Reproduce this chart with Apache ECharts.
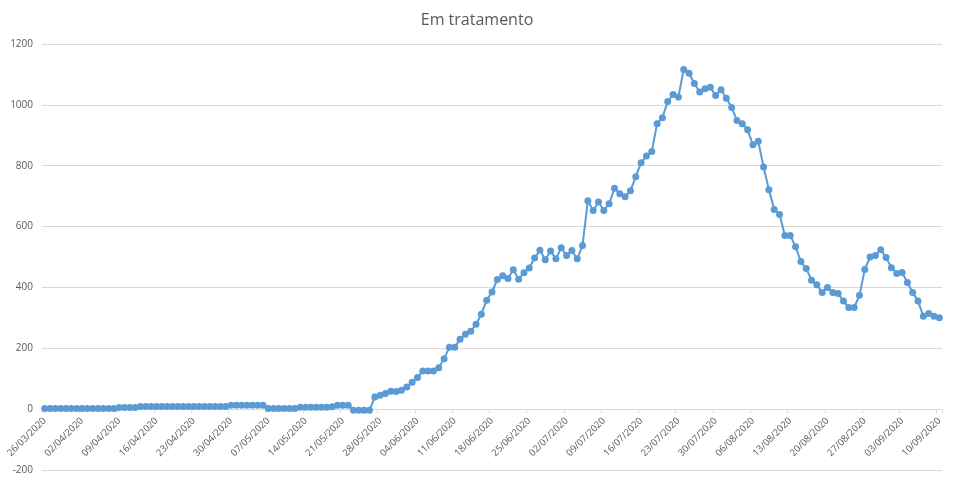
<!DOCTYPE html>
<html>
<head>
<meta charset="utf-8">
<script src="https://cdn.jsdelivr.net/npm/echarts@6/dist/echarts.min.js"></script>
<style>
html,body{margin:0;padding:0;background:#fff;}
#chart{width:954px;height:477px;}
</style>
</head>
<body>
<div id="chart"></div>
<script>
// Category dates: daily from 26/03/2020 to 10/09/2020
var startDate = [2020, 3, 26];
var dayCount = 169;

// "Em tratamento" values, one array per month
var marValues = [2,2,2,2,2,2];
var aprValues = [2,2,2,2,2,2,2,2, 5,5,5,5, 9,9,9,9,9,9,9,9,9,9,9,9,9,9,9,9,9, 13];
var mayValues = [13,13,13,13,13,13, 2,2,2,2,2,2, 6,6,6,6,6,6, 8, 13,13,13, -4,-4,-4,-4, 40,46,51,59,58];
var junValues = [62,73,88,104,125,125,125,136,166,203,203,230,246,256,279,312,358,385,426,438,429,458,
                 427,448,464,497,522,491,520,494];
var julValues = [530,505,521,494,538,
                 685,653,681,653,675,726,708,698,718,764,810,832,847,938,958,1011,1034,1026,1116,1104,1070,1042,1053,1058,1031,1050];
var augValues = [1022,991,949,938,918,869,880,796,721,656,640,571,571,534,485,462,424,409,
                 383,400,383,380,355,334,334,374,459,500,505,524,498];
var sepValues = [465,446,449,416,383,355,305,314,305,300];

var yMin = -200, yMax = 1200, yStep = 200;
var titleText = 'Em tratamento';

function pad(n){ return (n < 10 ? '0' : '') + n; }
var categories = [];
var d0 = new Date(Date.UTC(startDate[0], startDate[1]-1, startDate[2]));
for (var i = 0; i < dayCount; i++) {
  var dt = new Date(d0.getTime() + i*86400000);
  categories.push(pad(dt.getUTCDate()) + '/' + pad(dt.getUTCMonth()+1) + '/' + dt.getUTCFullYear());
}
var values = [].concat(marValues, aprValues, mayValues, junValues, julValues, augValues, sepValues);

var gridTop = 44, gridBottom = 7, H = 477;
var plotH = H - gridTop - gridBottom;
// shift the x axis up so it sits on the value 0
var zeroOffset = -(plotH * (0 - yMin) / (yMax - yMin));

var chart = echarts.init(document.getElementById('chart'), null, {renderer:'canvas'});
chart.setOption({
  animation: false,
  backgroundColor: '#ffffff',
  title: {
    text: titleText,
    left: 'center',
    top: 7,
    textStyle: {fontFamily: 'Open Sans', fontSize: 16, fontWeight: 'normal', color: '#595959'}
  },
  grid: {left: 42, right: 12, top: gridTop, bottom: gridBottom, containLabel: false, outerBoundsMode: 'none'},
  xAxis: {
    type: 'category',
    data: categories,
    boundaryGap: true,
    position: 'bottom',
    offset: zeroOffset,
    axisLine: {onZero: false, lineStyle: {color: '#D9D9D9', width: 1}},
    axisTick: {show: true, length: 4, lineStyle: {color: '#D9D9D9'}, interval: 6},
    axisLabel: {
      interval: 6,
      rotate: 45,
      margin: 10,
      fontFamily: 'Open Sans',
      fontSize: 9.5,
      color: '#595959'
    },
    splitLine: {show: false}
  },
  yAxis: {
    type: 'value',
    min: yMin, max: yMax, interval: yStep,
    axisLine: {show: false},
    axisTick: {show: false},
    axisLabel: {fontFamily: 'Open Sans', fontSize: 10, color: '#595959', margin: 9,
                formatter: function (v) { return String(v); }},
    splitLine: {lineStyle: {color: '#D9D9D9', width: 1}}
  },
  series: [{
    type: 'line',
    data: values,
    symbol: 'circle',
    symbolSize: 7,
    showAllSymbol: true,
    lineStyle: {color: '#5B9BD5', width: 2},
    itemStyle: {color: '#5B9BD5'},
    z: 3
  }]
});
</script>
</body>
</html>
